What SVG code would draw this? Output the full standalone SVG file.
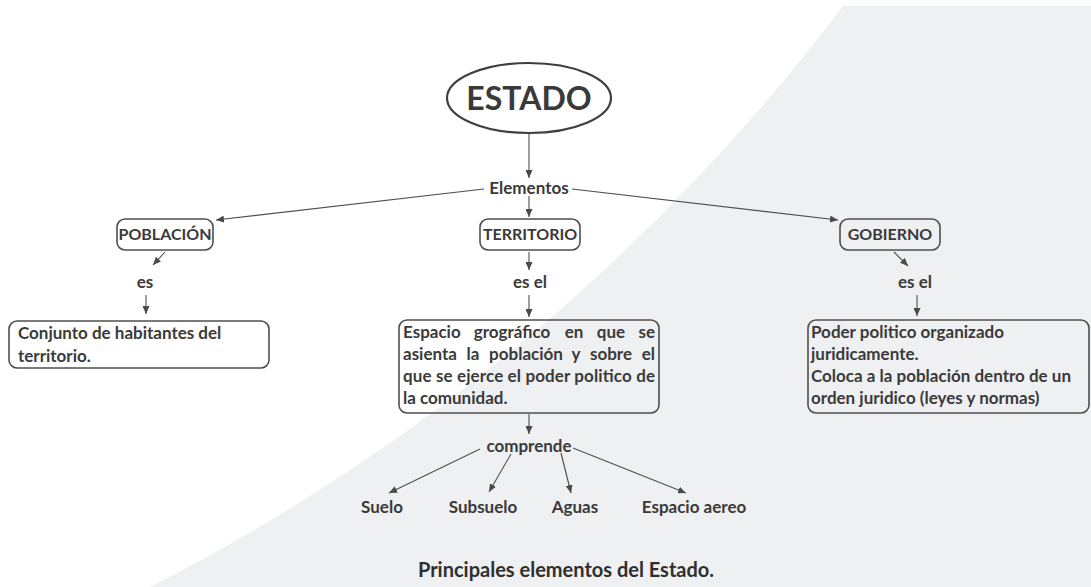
<svg xmlns="http://www.w3.org/2000/svg" width="1091" height="587" viewBox="0 0 1091 587">
  <defs>
    <marker id="arr" markerUnits="userSpaceOnUse" markerWidth="9" markerHeight="7" refX="8" refY="3.5" orient="auto">
      <path d="M0,0 L8,3.5 L0,7 z" fill="#4a4a4a"/>
    </marker>
    <style>
      text { font-family: Lato, "Open Sans", "Liberation Sans", sans-serif; font-weight: bold; fill: #3a3a3a; }
      .lbl { font-size: 16px; text-anchor: middle; }
      .link { font-size: 17px; text-anchor: middle; }
      .body { font-size: 17px; }
      .box { fill: none; stroke: #4f4f4f; stroke-width: 1.6; }
      .con { fill: none; stroke: #4f4f4f; stroke-width: 1.1; marker-end: url(#arr); }
    </style>
  </defs>

  <rect x="0" y="0" width="1091" height="587" fill="#ffffff"/>
  <path d="M843,6 A2016,2016 0 0 1 150,587 L1091,587 L1091,6 Z" fill="#eff0f2"/>

  <g id="connectors">
    <line class="con" x1="529" y1="133" x2="529" y2="178"/>
    <line class="con" x1="484" y1="189" x2="216" y2="220"/>
    <line class="con" x1="529" y1="196" x2="529" y2="217"/>
    <line class="con" x1="572" y1="189" x2="838" y2="220"/>
    <line class="con" x1="165" y1="252" x2="153" y2="265"/>
    <line class="con" x1="146" y1="295" x2="146" y2="314"/>
    <line class="con" x1="529" y1="252" x2="529" y2="270"/>
    <line class="con" x1="529" y1="295" x2="529" y2="317"/>
    <line class="con" x1="894" y1="252" x2="908" y2="266"/>
    <line class="con" x1="917" y1="295" x2="917" y2="316"/>
    <line class="con" x1="529" y1="414" x2="529" y2="434"/>
    <line class="con" x1="480" y1="449" x2="389" y2="493"/>
    <line class="con" x1="511" y1="454" x2="489" y2="492"/>
    <line class="con" x1="561" y1="453" x2="571" y2="493"/>
    <line class="con" x1="573" y1="448" x2="686" y2="493"/>
  </g>

  <g id="estado">
    <ellipse cx="529" cy="98" rx="82" ry="35" fill="none" stroke="#3f3f3f" stroke-width="2.2"/>
    <text x="529" y="110" text-anchor="middle" style="font-size:32px">ESTADO</text>
  </g>

  <g id="elementos">
    <text class="link" x="529" y="194">Elementos</text>
  </g>

  <g id="poblacion">
    <rect class="box" x="117" y="219" width="96" height="31" rx="8"/>
    <text class="lbl" x="165" y="240">POBLACIÓN</text>
  </g>

  <g id="territorio">
    <rect class="box" x="480" y="219" width="100" height="31" rx="8"/>
    <text class="lbl" x="530" y="240">TERRITORIO</text>
  </g>

  <g id="gobierno">
    <rect class="box" x="840" y="219" width="100" height="31" rx="8"/>
    <text class="lbl" x="890" y="240">GOBIERNO</text>
  </g>

  <g id="es-poblacion">
    <text class="link" x="145" y="288">es</text>
  </g>
  <g id="esel-territorio">
    <text class="link" x="530" y="288">es el</text>
  </g>
  <g id="esel-gobierno">
    <text class="link" x="915" y="288">es el</text>
  </g>

  <g id="conjunto">
    <rect class="box" x="9" y="321" width="260" height="47" rx="8"/>
    <text class="body" x="18" y="339">Conjunto de habitantes del</text>
    <text class="body" x="18" y="362">territorio.</text>
  </g>

  <g id="espacio">
    <rect class="box" x="399" y="320" width="260" height="93" rx="8"/>
    <text class="body" y="338"><tspan x="403" text-anchor="start">Espacio</tspan><tspan x="512" text-anchor="middle">grográfico</tspan><tspan x="574" text-anchor="middle">en</tspan><tspan x="611" text-anchor="middle">que</tspan><tspan x="655" text-anchor="end">se</tspan></text>
    <text class="body" y="360"><tspan x="403" text-anchor="start">asienta</tspan><tspan x="473" text-anchor="middle">la</tspan><tspan x="526" text-anchor="middle">población</tspan><tspan x="576" text-anchor="middle">y</tspan><tspan x="611" text-anchor="middle">sobre</tspan><tspan x="655" text-anchor="end">el</tspan></text>
    <text class="body" x="403" y="382" textLength="252" lengthAdjust="spacing">que se ejerce el poder politico de</text>
    <text class="body" x="403" y="404">la comunidad.</text>
  </g>

  <g id="poder">
    <rect class="box" x="808" y="320" width="281" height="93" rx="8"/>
    <text class="body" x="811" y="338">Poder politico organizado</text>
    <text class="body" x="811" y="360">juridicamente.</text>
    <text class="body" x="811" y="382">Coloca a la población dentro de un</text>
    <text class="body" x="811" y="404">orden juridico (leyes y normas)</text>
  </g>

  <g id="comprende">
    <text class="link" x="529" y="452">comprende</text>
  </g>

  <g id="suelo"><text class="link" x="382" y="513">Suelo</text></g>
  <g id="subsuelo"><text class="link" x="483" y="513">Subsuelo</text></g>
  <g id="aguas"><text class="link" x="575" y="513">Aguas</text></g>
  <g id="espacio-aereo"><text class="link" x="694" y="513">Espacio aereo</text></g>

  <g id="caption">
    <text x="566" y="577" text-anchor="middle" style="font-size:20px; fill:#2f2f2f">Principales elementos del Estado.</text>
  </g>
</svg>
